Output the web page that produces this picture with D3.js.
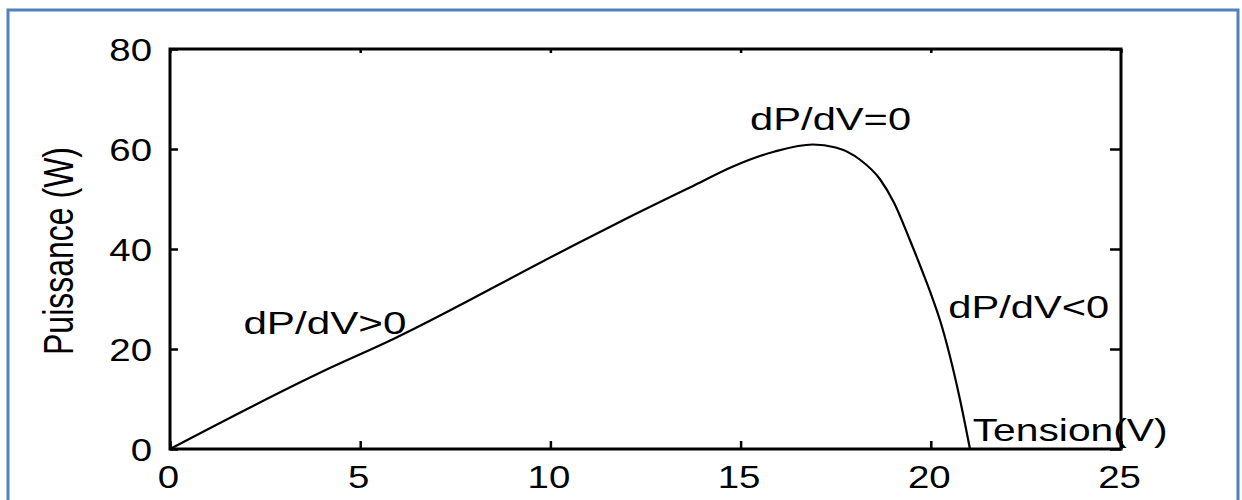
<!DOCTYPE html>
<html>
<head>
<meta charset="utf-8">
<script src="https://cdn.jsdelivr.net/npm/d3@7"></script>
<style>
  html, body { margin: 0; padding: 0; background: #fff; }
  svg { display: block; font-family: "Liberation Sans", Arial, sans-serif; }
</style>
</head>
<body>
<div id="chart"></div>
<script>
// P-V curve of the panel
const tension   = [0, 3.9, 5.9, 10.3, 12.0, 13.8, 14.8, 15.9, 16.9, 17.5, 18.15, 18.66, 19.03, 19.45, 19.8, 20.0, 20.24, 20.77, 21.03];
const puissance = [0, 15.1, 22.1, 39.5, 46.1, 52.8, 56.5, 59.5, 60.9, 60.3, 57.8, 54.0, 49.3, 41.8, 35.1, 31.1, 25.8, 9.8, 0];

const xTicks = [0, 5, 10, 15, 20, 25];
const yTicks = [0, 20, 40, 60, 80];

// annotation text and the (V, P) point where it starts
const noteLabels = ["dP/dV=0", "dP/dV>0", "dP/dV<0", "Tension(V)"];
const noteV      = [15.25, 1.93, 20.46, 21.1];
const noteP      = [63.8, 23.0, 26.3, 1.6];

const W = 1242, H = 500;
const margin = {top: 49, right: 121, bottom: 51, left: 170};

const svg = d3.select("#chart").append("svg")
    .attr("width", W)
    .attr("height", H);

svg.append("rect").attr("width", W).attr("height", H).attr("fill", "#fff");

// blue frame around the figure (bottom edge is cut off)
svg.append("path")
    .attr("d", `M8,${H + 5}V10H1238V${H + 5}`)
    .attr("fill", "none")
    .attr("stroke", "#4f81bd")
    .attr("stroke-width", 3);

const x = d3.scaleLinear().domain([0, 25]).range([margin.left, W - margin.right]);
const y = d3.scaleLinear().domain([0, 80]).range([H - margin.bottom, margin.top]);

const font = 32;

// bottom axis, ticks pointing in
const gx = svg.append("g")
    .attr("transform", `translate(0,${y(0)})`)
    .call(d3.axisBottom(x).tickValues(xTicks).tickSizeInner(-8).tickSizeOuter(0).tickFormat(d3.format("d")));
gx.select(".domain").remove();
gx.selectAll(".tick line").attr("stroke", "#000").attr("stroke-width", 2.5);
gx.selectAll(".tick text")
    .attr("y", null).attr("dy", null)
    .attr("transform", "translate(-2,39) scale(1.2,1)")
    .attr("font-size", font)
    .attr("font-family", "Liberation Sans, Arial, sans-serif")
    .attr("fill", "#000");

// top ticks
svg.append("g")
    .attr("transform", `translate(0,${y(80)})`)
    .call(d3.axisTop(x).tickValues(xTicks).tickSizeInner(-4).tickSizeOuter(0).tickFormat(""))
    .call(g => g.select(".domain").remove())
    .selectAll(".tick line").attr("stroke", "#000").attr("stroke-width", 2.5);

// left axis
const gy = svg.append("g")
    .attr("transform", `translate(${x(0)},0)`)
    .call(d3.axisLeft(y).tickValues(yTicks).tickSizeInner(-8).tickSizeOuter(0).tickFormat(d3.format("d")));
gy.select(".domain").remove();
gy.selectAll(".tick line").attr("stroke", "#000").attr("stroke-width", 2.5);
gy.selectAll(".tick text")
    .attr("x", null).attr("dy", null)
    .attr("text-anchor", "end")
    .attr("transform", "translate(-18,11.5) scale(1.2,1)")
    .attr("font-size", font)
    .attr("font-family", "Liberation Sans, Arial, sans-serif")
    .attr("fill", "#000");

// right ticks
svg.append("g")
    .attr("transform", `translate(${x(25)},0)`)
    .call(d3.axisRight(y).tickValues(yTicks).tickSizeInner(-11).tickSizeOuter(0).tickFormat(""))
    .call(g => g.select(".domain").remove())
    .selectAll(".tick line").attr("stroke", "#000").attr("stroke-width", 2.5);

// box
svg.append("rect")
    .attr("x", x(0)).attr("y", y(80))
    .attr("width", x(25) - x(0)).attr("height", y(0) - y(80))
    .attr("fill", "none")
    .attr("stroke", "#000")
    .attr("stroke-width", 3);

// curve
const line = d3.line()
    .x((d, i) => x(tension[i]))
    .y(d => y(d))
    .curve(d3.curveMonotoneX);

svg.append("path")
    .datum(puissance)
    .attr("d", line)
    .attr("fill", "none")
    .attr("stroke", "#000")
    .attr("stroke-width", 2.2);

// annotations, stretched wide like the original
const noteWidths = [161, 163, 161, 195];
noteLabels.forEach((t, i) => {
    svg.append("text")
        .attr("x", x(noteV[i]))
        .attr("y", y(noteP[i]))
        .attr("font-size", font)
        .attr("textLength", noteWidths[i])
        .attr("lengthAdjust", "spacingAndGlyphs")
        .attr("fill", "#000")
        .text(t);
});

// y axis title
svg.append("text")
    .attr("transform", "translate(73,251) scale(1.35,1) rotate(-90)")
    .attr("text-anchor", "middle")
    .attr("font-size", font)
    .attr("fill", "#000")
    .text("Puissance (W)");
</script>
</body>
</html>
